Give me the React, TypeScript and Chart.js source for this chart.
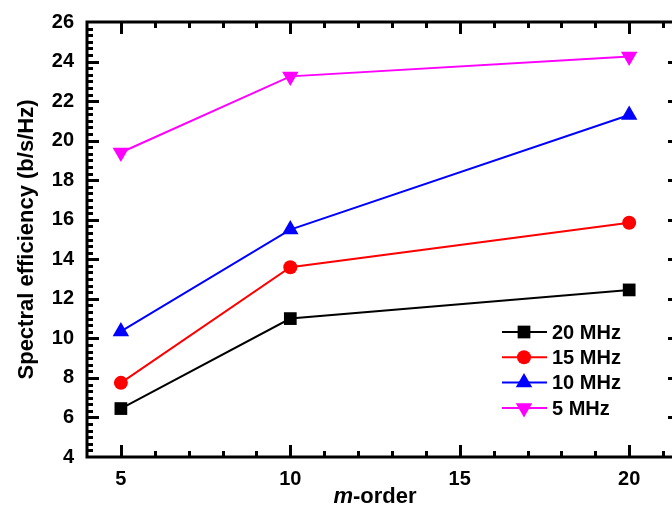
import React, { useEffect, useRef } from 'react';
import { Chart, registerables } from 'chart.js';

Chart.register(...registerables);

// ---- data ----
const mOrder = [5, 10, 20];
const se20MHz = [6.45, 11.0, 12.45];
const se15MHz = [7.75, 13.6, 15.85];
const se10MHz = [10.35, 15.5, 21.3];
const se5MHz = [19.4, 23.25, 24.25];
const seriesLabels = ['20 MHz', '15 MHz', '10 MHz', '5 MHz'];
const xTickValues = [5, 10, 15, 20];
const yTickValues = [4, 6, 8, 10, 12, 14, 16, 18, 20, 22, 24, 26];
const xTitleItalic = 'm';
const xTitleRest = '-order';
const yTitle = 'Spectral efficiency (b/s/Hz)';

const FONT = '"Liberation Sans", Arial, Helvetica, sans-serif';
const TICK_SIZE = 20;
const TITLE_SIZE = 22;

function drawMarker(ctx: CanvasRenderingContext2D, style: string, x: number, y: number, r: number, rot: number, color: string) {
  ctx.save();
  ctx.fillStyle = color;
  ctx.beginPath();
  if (style === 'circle') {
    ctx.arc(x, y, r, 0, Math.PI * 2);
  } else if (style === 'rect') {
    const s = Math.SQRT1_2 * r;
    ctx.rect(x - s, y - s, 2 * s, 2 * s);
  } else if (style === 'triangle') {
    let rad = (rot * Math.PI) / 180;
    ctx.moveTo(x + Math.sin(rad) * r, y - Math.cos(rad) * r);
    rad += (2 * Math.PI) / 3;
    ctx.lineTo(x + Math.sin(rad) * r, y - Math.cos(rad) * r);
    rad += (2 * Math.PI) / 3;
    ctx.lineTo(x + Math.sin(rad) * r, y - Math.cos(rad) * r);
    ctx.closePath();
  }
  ctx.fill();
  ctx.restore();
}

const framePlugin = {
  id: 'framePlugin',
  afterDraw(chart: any) {
    const { ctx, chartArea } = chart;
    const xs = chart.scales.x;
    const ys = chart.scales.y;
    const { left, right, top, bottom } = chartArea;
    ctx.save();
    ctx.strokeStyle = '#000';
    ctx.lineWidth = 3;
    ctx.lineCap = 'square';
    ctx.strokeRect(left, top, right - left, bottom - top);

    ctx.lineCap = 'butt';
    // x ticks (inward, top & bottom)
    for (let v = Math.ceil(xs.min); v <= xs.max; v++) {
      if (v === xs.min) continue;
      const px = Math.round(xs.getPixelForValue(v)) + 0.5;
      const len = v % 5 === 0 ? 12 : 6;
      ctx.beginPath();
      ctx.moveTo(px, bottom);
      ctx.lineTo(px, bottom - len);
      ctx.moveTo(px, top);
      ctx.lineTo(px, top + len);
      ctx.stroke();
    }
    // y ticks (inward, left & right)
    const nMinor = Math.round((ys.max - ys.min) * 3);
    for (let i = 1; i < nMinor; i++) {
      const v = ys.min + i / 3;
      const py = Math.round(ys.getPixelForValue(v)) + 0.5;
      const len = i % 6 === 0 ? 12 : 6;
      ctx.beginPath();
      ctx.moveTo(left, py);
      ctx.lineTo(left + len, py);
      ctx.moveTo(right, py);
      ctx.lineTo(right - len, py);
      ctx.stroke();
    }

    // x title with italic m
    ctx.fillStyle = '#000';
    ctx.textBaseline = 'middle';
    ctx.textAlign = 'left';
    ctx.font = `italic bold ${TITLE_SIZE}px ${FONT}`;
    const w1 = ctx.measureText(xTitleItalic).width;
    ctx.font = `bold ${TITLE_SIZE}px ${FONT}`;
    const w2 = ctx.measureText(xTitleRest).width;
    const cx = 375;
    const ty = 497;
    const sx = cx - (w1 + w2) / 2;
    ctx.font = `italic bold ${TITLE_SIZE}px ${FONT}`;
    ctx.fillText(xTitleItalic, sx, ty);
    ctx.font = `bold ${TITLE_SIZE}px ${FONT}`;
    ctx.fillText(xTitleRest, sx + w1, ty);

    // legend
    const lx0 = 502, lx1 = 547, mx = 524, tx = 552;
    const rowY = [332, 357.3, 382.6, 408];
    chart.data.datasets.forEach((ds: any, i: number) => {
      const y = rowY[i];
      ctx.strokeStyle = ds.borderColor;
      ctx.lineWidth = 2;
      ctx.beginPath();
      ctx.moveTo(lx0, y);
      ctx.lineTo(lx1, y);
      ctx.stroke();
      drawMarker(ctx, ds.pointStyle, mx, y, ds.pointRadius, ds.pointRotation || 0, ds.borderColor);
      ctx.fillStyle = '#000';
      ctx.font = `bold ${TICK_SIZE}px ${FONT}`;
      ctx.textBaseline = 'middle';
      ctx.textAlign = 'left';
      ctx.fillText(ds.label, tx, y + 1);
    });
    ctx.restore();
  },
};

export default function App() {
  const ref = useRef<HTMLCanvasElement | null>(null);
  useEffect(() => {
    if (!ref.current) return;
    const mk = (label: string, data: number[], color: string, style: string, radius: number, rot = 0) => ({
      label,
      data: mOrder.map((x, i) => ({ x, y: data[i] })),
      borderColor: color,
      backgroundColor: color,
      borderWidth: 2,
      pointStyle: style,
      pointRadius: radius,
      pointHoverRadius: radius,
      pointRotation: rot,
      pointBorderWidth: 0,
      tension: 0,
    });
    const chart = new Chart(ref.current, {
      type: 'line',
      data: {
        datasets: [
          mk(seriesLabels[0], se20MHz, '#000000', 'rect', 9),
          mk(seriesLabels[1], se15MHz, '#ff0000', 'circle', 7),
          mk(seriesLabels[2], se10MHz, '#0000ff', 'triangle', 9.5),
          mk(seriesLabels[3], se5MHz, '#ff00ff', 'triangle', 9.5, 180),
        ],
      },
      options: {
        responsive: true,
        maintainAspectRatio: false,
        animation: false,
        devicePixelRatio: 1,
        layout: { padding: { top: 22, right: 10, left: 0, bottom: 0 } },
        plugins: { legend: { display: false }, tooltip: { enabled: false } },
        events: [],
        scales: {
          x: {
            type: 'linear',
            min: 4,
            max: 21.5,
            grid: { display: false, drawTicks: false },
            border: { display: false },
            afterBuildTicks: (s: any) => {
              s.ticks = xTickValues.map((v) => ({ value: v }));
            },
            afterFit: (s: any) => {
              s.height = 49;
              s.paddingLeft = 0;
              s.paddingRight = 0;
              s.paddingTop = 0;
              s.paddingBottom = 0;
            },
            ticks: {
              autoSkip: false,
              maxRotation: 0,
              padding: 10,
              color: '#000',
              font: { family: FONT, size: TICK_SIZE, weight: 'bold' },
              callback: (v: any) => String(v),
            },
            title: { display: false },
          },
          y: {
            type: 'linear',
            min: 4,
            max: 26,
            grid: { display: false, drawTicks: false },
            border: { display: false },
            afterBuildTicks: (s: any) => {
              s.ticks = yTickValues.map((v) => ({ value: v }));
            },
            afterFit: (s: any) => {
              s.width = 87;
              s.paddingLeft = 0;
              s.paddingRight = 0;
              s.paddingTop = 0;
              s.paddingBottom = 0;
            },
            ticks: {
              autoSkip: false,
              padding: 13,
              color: '#000',
              font: { family: FONT, size: TICK_SIZE, weight: 'bold' },
              callback: (v: any) => String(v),
            },
            title: {
              display: true,
              text: yTitle,
              color: '#000',
              font: { family: FONT, size: TITLE_SIZE, weight: 'bold' },
              padding: { top: 14, bottom: 0 },
            },
          },
        },
      },
      plugins: [framePlugin],
    } as any);
    return () => chart.destroy();
  }, []);
  return (
    <div style={{ position: 'fixed', left: 0, top: 0, width: 672, height: 506, overflow: 'hidden', background: '#fff' }}>
      <div style={{ position: 'relative', width: 690, height: 506 }}>
        <canvas ref={ref} />
      </div>
    </div>
  );
}
